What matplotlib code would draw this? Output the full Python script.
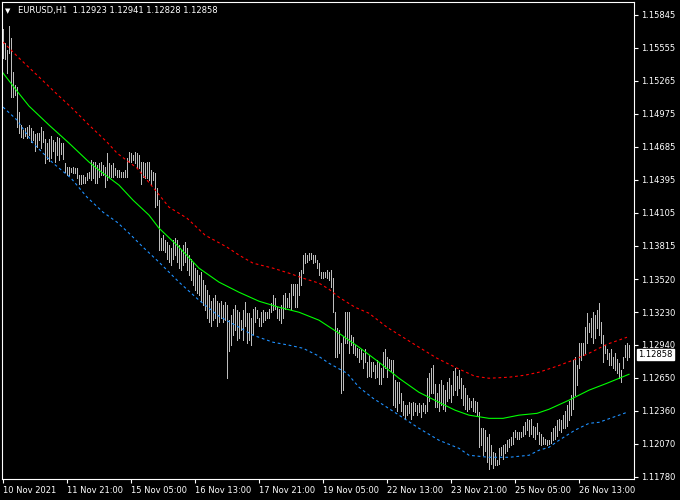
import matplotlib
matplotlib.use('Agg')
import matplotlib.pyplot as plt
import numpy as np

# hourly bars, EURUSD H1 (high / low of each bar)
highs = [
    1.1572, 1.1560, 1.1554, 1.1575, 1.1564, 1.1534, 1.1523, 1.1521, 1.1499, 1.1488,
    1.1483, 1.1485, 1.1486, 1.1488, 1.1485, 1.1482, 1.1480, 1.1481, 1.1481, 1.1486,
    1.1482, 1.1475, 1.1472, 1.1475, 1.1478, 1.1474, 1.1473, 1.1477, 1.1476, 1.1472,
    1.1472, 1.1454, 1.1451, 1.1451, 1.1450, 1.1451, 1.1450, 1.1450, 1.1444, 1.1444,
    1.1444, 1.1442, 1.1445, 1.1446, 1.1457, 1.1455, 1.1455, 1.1452, 1.1454, 1.1455,
    1.1452, 1.1451, 1.1463, 1.1454, 1.1452, 1.1454, 1.1450, 1.1448, 1.1448, 1.1446,
    1.1446, 1.1448, 1.1459, 1.1464, 1.1463, 1.1461, 1.1464, 1.1463, 1.1461, 1.1455,
    1.1455, 1.1454, 1.1455, 1.1455, 1.1448, 1.1446, 1.1445, 1.1432, 1.1422, 1.1388,
    1.1391, 1.1386, 1.1385, 1.1382, 1.1379, 1.1386, 1.1388, 1.1386, 1.1382, 1.1378,
    1.1382, 1.1385, 1.1379, 1.1373, 1.1370, 1.1367, 1.1362, 1.1360, 1.1356, 1.1358,
    1.1351, 1.1347, 1.1342, 1.1338, 1.1333, 1.1335, 1.1338, 1.1333, 1.1331, 1.1333,
    1.1329, 1.1332, 1.1329, 1.1316, 1.1320, 1.1326, 1.1329, 1.1325, 1.1323, 1.1316,
    1.1325, 1.1332, 1.1322, 1.1322, 1.1318, 1.1326, 1.1327, 1.1325, 1.1318, 1.1323,
    1.1325, 1.1323, 1.1323, 1.1326, 1.1331, 1.1338, 1.1335, 1.1327, 1.1326, 1.1329,
    1.1338, 1.1340, 1.1335, 1.1340, 1.1348, 1.1348, 1.1348, 1.1348, 1.1358, 1.1360,
    1.1373, 1.1375, 1.1373, 1.1375, 1.1375, 1.1373, 1.1373, 1.1369, 1.1366, 1.1358,
    1.1358, 1.1358, 1.1360, 1.1358, 1.1360, 1.1353, 1.1323, 1.1309, 1.1307, 1.1296,
    1.1301, 1.1323, 1.1323, 1.1323, 1.1303, 1.1301, 1.1294, 1.1291, 1.1290, 1.1290,
    1.1287, 1.1290, 1.1279, 1.1285, 1.1279, 1.1279, 1.1276, 1.1281, 1.1278, 1.1274,
    1.1288, 1.1290, 1.1283, 1.1282, 1.1281, 1.1281, 1.1263, 1.1261, 1.1261, 1.1252,
    1.1245, 1.1241, 1.1241, 1.1244, 1.1243, 1.1244, 1.1243, 1.1241, 1.1243, 1.1241,
    1.1243, 1.1241, 1.1265, 1.1269, 1.1274, 1.1276, 1.1260, 1.1252, 1.1260, 1.1263,
    1.1259, 1.1254, 1.1261, 1.1265, 1.1259, 1.1271, 1.1274, 1.1267, 1.1272, 1.1265,
    1.1259, 1.1256, 1.1250, 1.1247, 1.1245, 1.1247, 1.1245, 1.1244, 1.1235, 1.1221,
    1.1221, 1.1219, 1.1213, 1.1216, 1.1206, 1.1200, 1.1199, 1.1193, 1.1203, 1.1204,
    1.1206, 1.1207, 1.1210, 1.1211, 1.1213, 1.1217, 1.1219, 1.1217, 1.1217, 1.1217,
    1.1223, 1.1226, 1.1229, 1.1228, 1.1229, 1.1223, 1.1222, 1.1225, 1.1217, 1.1216,
    1.1213, 1.1211, 1.1210, 1.1210, 1.1217, 1.1221, 1.1223, 1.1228, 1.1229, 1.1228,
    1.1232, 1.1236, 1.1241, 1.1245, 1.1250, 1.1281, 1.1283, 1.1276, 1.1296, 1.1296,
    1.1296, 1.1310, 1.1322, 1.1313, 1.1318, 1.1323, 1.1320, 1.1325, 1.1331, 1.1314,
    1.1303, 1.1294, 1.1290, 1.1287, 1.1290, 1.1283, 1.1287, 1.1282, 1.1278, 1.1272,
    1.1283, 1.1294, 1.1296, 1.1294,
]
lows = [
    1.1547, 1.1546, 1.1533, 1.1551, 1.1512, 1.1512, 1.1514, 1.1486, 1.1481, 1.1477,
    1.1476, 1.1478, 1.1476, 1.1479, 1.1473, 1.1474, 1.1465, 1.1468, 1.1474, 1.1467,
    1.1473, 1.1454, 1.1458, 1.1456, 1.1459, 1.1465, 1.1455, 1.1461, 1.1457, 1.1462,
    1.1458, 1.1446, 1.1444, 1.1444, 1.1446, 1.1445, 1.1445, 1.1441, 1.1436, 1.1436,
    1.1437, 1.1437, 1.1439, 1.1441, 1.1439, 1.1441, 1.1437, 1.1437, 1.1442, 1.1444,
    1.1444, 1.1433, 1.1439, 1.1442, 1.1442, 1.1442, 1.1444, 1.1442, 1.1442, 1.1442,
    1.1442, 1.1442, 1.1442, 1.1455, 1.1455, 1.1457, 1.1454, 1.1450, 1.1450, 1.1436,
    1.1442, 1.1441, 1.1441, 1.1439, 1.1436, 1.1439, 1.1415, 1.1417, 1.1378, 1.1378,
    1.1378, 1.1376, 1.1370, 1.1367, 1.1364, 1.1370, 1.1373, 1.1367, 1.1362, 1.1360,
    1.1364, 1.1367, 1.1360, 1.1356, 1.1351, 1.1347, 1.1342, 1.1340, 1.1338, 1.1333,
    1.1329, 1.1325, 1.1318, 1.1314, 1.1311, 1.1316, 1.1318, 1.1311, 1.1314, 1.1318,
    1.1314, 1.1316, 1.1265, 1.1289, 1.1294, 1.1303, 1.1307, 1.1298, 1.1300, 1.1307,
    1.1298, 1.1311, 1.1296, 1.1298, 1.1294, 1.1304, 1.1314, 1.1318, 1.1311, 1.1311,
    1.1314, 1.1316, 1.1318, 1.1318, 1.1323, 1.1325, 1.1326, 1.1318, 1.1316, 1.1313,
    1.1318, 1.1326, 1.1327, 1.1327, 1.1326, 1.1338, 1.1327, 1.1327, 1.1338, 1.1347,
    1.1357, 1.1366, 1.1367, 1.1369, 1.1370, 1.1366, 1.1367, 1.1362, 1.1356, 1.1353,
    1.1353, 1.1354, 1.1353, 1.1351, 1.1345, 1.1323, 1.1283, 1.1283, 1.1287, 1.1252,
    1.1254, 1.1296, 1.1296, 1.1287, 1.1294, 1.1287, 1.1285, 1.1283, 1.1279, 1.1282,
    1.1274, 1.1279, 1.1266, 1.1267, 1.1266, 1.1271, 1.1265, 1.1266, 1.1260, 1.1260,
    1.1266, 1.1274, 1.1266, 1.1274, 1.1271, 1.1241, 1.1239, 1.1236, 1.1243, 1.1236,
    1.1232, 1.1229, 1.1232, 1.1234, 1.1229, 1.1232, 1.1236, 1.1232, 1.1235, 1.1231,
    1.1236, 1.1234, 1.1236, 1.1245, 1.1252, 1.1252, 1.1239, 1.1239, 1.1236, 1.1241,
    1.1238, 1.1236, 1.1245, 1.1247, 1.1244, 1.1250, 1.1254, 1.1250, 1.1256, 1.1247,
    1.1241, 1.1238, 1.1236, 1.1238, 1.1239, 1.1236, 1.1235, 1.1232, 1.1204, 1.1206,
    1.1197, 1.1201, 1.1191, 1.1185, 1.1189, 1.1186, 1.1188, 1.1188, 1.1189, 1.1197,
    1.1194, 1.1199, 1.1201, 1.1204, 1.1206, 1.1207, 1.1213, 1.1211, 1.1211, 1.1213,
    1.1214, 1.1216, 1.1219, 1.1214, 1.1216, 1.1213, 1.1211, 1.1216, 1.1207, 1.1206,
    1.1207, 1.1207, 1.1206, 1.1207, 1.1208, 1.1210, 1.1211, 1.1214, 1.1219, 1.1217,
    1.1221, 1.1221, 1.1223, 1.1228, 1.1232, 1.1238, 1.1250, 1.1259, 1.1274, 1.1281,
    1.1285, 1.1287, 1.1296, 1.1305, 1.1301, 1.1296, 1.1300, 1.1309, 1.1303, 1.1296,
    1.1279, 1.1287, 1.1282, 1.1276, 1.1276, 1.1274, 1.1272, 1.1269, 1.1265, 1.1261,
    1.1274, 1.1283, 1.1281, 1.1283,
]

# indicator lines read at bar indices
ma_idx = [0, 7, 13, 23, 33, 43, 48, 58, 65, 73, 78, 88, 98, 108, 118, 128, 138, 148,
          158, 168, 178, 188, 198, 208, 218, 226, 233, 243, 250, 258, 267, 273, 283,
          293, 302, 313]
ma_val = [1.15334, 1.15175, 1.15043, 1.14876, 1.14717, 1.14550, 1.14479, 1.14347,
          1.14215, 1.14083, 1.13968, 1.13801, 1.13616, 1.13493, 1.13404, 1.13325,
          1.13272, 1.13228, 1.13158, 1.13043, 1.12920, 1.12788, 1.12647, 1.12523,
          1.12435, 1.12366, 1.12322, 1.12294, 1.12294, 1.12322, 1.12338, 1.12374,
          1.12454, 1.12542, 1.12603, 1.12682]

up_idx = [0, 8, 18, 28, 34, 43, 52, 57, 67, 77, 83, 92, 101, 112, 118, 125, 135, 143,
          150, 158, 163, 168, 176, 183, 192, 200, 208, 217, 226, 236, 243, 253, 261,
          268, 277, 285, 293, 302, 312]
up_val = [1.15607, 1.15466, 1.15299, 1.15131, 1.15034, 1.14876, 1.14726, 1.14629,
          1.14497, 1.14285, 1.14153, 1.14056, 1.13907, 1.13801, 1.13731, 1.13660,
          1.13616, 1.13572, 1.13528, 1.13484, 1.13431, 1.13360, 1.13272, 1.13219,
          1.13096, 1.13008, 1.12920, 1.12823, 1.12744, 1.12664, 1.12647, 1.12656,
          1.12674, 1.12700, 1.12753, 1.12806, 1.12867, 1.12946, 1.13008]

dn_idx = [0, 7, 15, 25, 34, 42, 50, 57, 63, 70, 78, 88, 98, 108, 118, 125, 135, 143,
          150, 157, 163, 172, 178, 185, 192, 198, 208, 218, 228, 233, 243, 253, 263,
          268, 273, 278, 286, 293, 298, 312]
dn_val = [1.15034, 1.14920, 1.14717, 1.14541, 1.14409, 1.14241, 1.14109, 1.14021,
          1.13924, 1.13801, 1.13669, 1.13493, 1.13334, 1.13193, 1.13096, 1.13026,
          1.12964, 1.12938, 1.12911, 1.12850, 1.12779, 1.12691, 1.12568, 1.12471,
          1.12391, 1.12322, 1.12206, 1.12101, 1.12030, 1.11969, 1.11951, 1.11951,
          1.11969, 1.12013, 1.12039, 1.12101, 1.12190, 1.12250, 1.12259, 1.12347]

price_ticks = [1.15845, 1.15555, 1.15265, 1.14975, 1.14685, 1.14395, 1.14105, 1.13815,
               1.13520, 1.13230, 1.12940, 1.12650, 1.12360, 1.12070, 1.11780]
time_ticks = [0, 32, 64, 96, 128, 160, 192, 224, 256, 288]
time_labels = ['10 Nov 2021', '11 Nov 21:00', '15 Nov 05:00', '16 Nov 13:00',
               '17 Nov 21:00', '19 Nov 05:00', '22 Nov 13:00', '23 Nov 21:00',
               '25 Nov 05:00', '26 Nov 13:00']
last_price = 1.12858
header = 'EURUSD,H1  1.12923 1.12941 1.12828 1.12858'

fig = plt.figure(figsize=(6.8, 5), dpi=100, facecolor='black')
ax = fig.add_axes([2 / 680, 21 / 500, 632 / 680, 477 / 500], facecolor='black')

x = np.arange(len(highs))
ax.vlines(x, lows, highs, colors='#bdbdbd', linewidth=0.55, antialiased=False)
ax.plot(ma_idx, ma_val, color='#00ff00', lw=0.8)
ax.plot(up_idx, up_val, color='#ff0000', lw=0.8, dashes=(2.5, 2.5))
ax.plot(dn_idx, dn_val, color='#1e90ff', lw=0.8, dashes=(2.5, 2.5))

ax.set_xlim(-0.5, 315.5)
ax.set_ylim(1.11760, 1.15959)

for s in ax.spines.values():
    s.set_color('white')
    s.set_linewidth(0.8)

ax.yaxis.tick_right()
ax.set_yticks(price_ticks)
ax.set_yticklabels(['%.5f' % v for v in price_ticks])
ax.tick_params(axis='y', colors='white', labelsize=6, length=3, width=0.8, pad=2)

ax.set_xticks(time_ticks)
ax.set_xticklabels(time_labels, ha='left')
ax.tick_params(axis='x', colors='white', labelsize=6, length=3, width=0.8, pad=2)

ax.annotate('%.5f' % last_price, xy=(1, last_price), xycoords=ax.get_yaxis_transform(),
            xytext=(3, 0), textcoords='offset points', ha='left', va='center',
            fontsize=6, color='black', annotation_clip=False,
            bbox=dict(boxstyle='square,pad=0.15', fc='white', ec='white'))

fig.text(5 / 680, 1 - 11 / 500, '\u25bc', color='white', fontsize=5, va='center')
fig.text(18 / 680, 1 - 11 / 500, header, color='white', fontsize=6, va='center')

fig.savefig('out.png', dpi=100, facecolor='black')
